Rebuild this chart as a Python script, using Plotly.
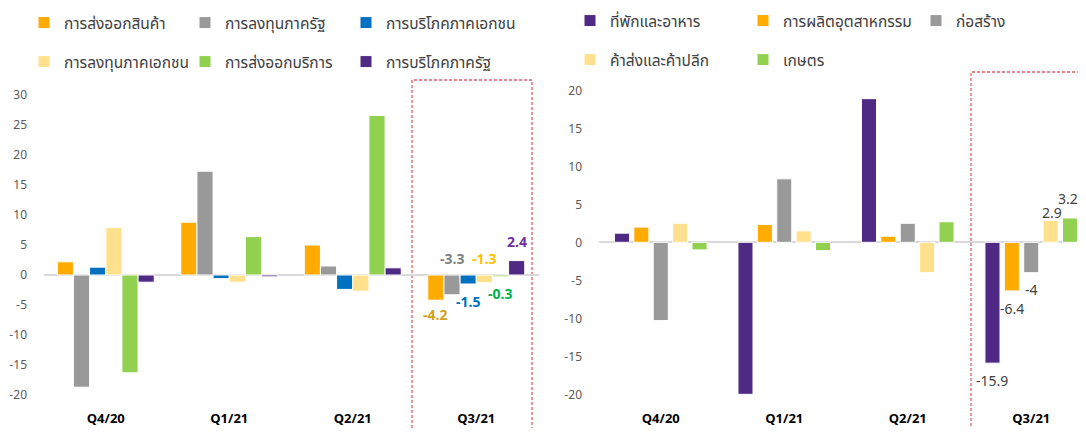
import plotly.graph_objects as go

# page window is 1086x436; the html body keeps its default 8px margin
WIN_W, WIN_H = 1086, 436
OFF = 8
FW, FH = WIN_W - 2 * OFF, WIN_H - 2 * OFF

quarters = ["Q4/20", "Q1/21", "Q2/21", "Q3/21"]

# Left chart: demand-side contributions
left_names = ["การส่งออกสินค้า", "การลงทุนภาครัฐ", "การบริโภคภาคเอกชน",
              "การลงทุนภาคเอกชน", "การส่งออกบริการ", "การบริโภคภาครัฐ"]
left_colors = ["#FFAB00", "#999999", "#0070C0", "#FFE08C", "#92D050", "#4E2A84"]
exports_goods = [2.2, 8.8, 5.0, -4.2]
public_invest = [-18.7, 17.3, 1.5, -3.3]
private_consump = [1.3, -0.6, -2.4, -1.5]
private_invest = [7.9, -1.2, -2.7, -1.3]
exports_services = [-16.3, 6.4, 26.6, -0.3]
public_consump = [-1.2, -0.3, 1.2, 2.4]
left_values = [exports_goods, public_invest, private_consump,
               private_invest, exports_services, public_consump]
left_label_colors = ["#D4A017", "#808080", "#0070C0", "#FFC000", "#00B050", "#7030A0"]
left_label_yshift = [-15, None, -18, None, -18, 18]   # None -> above zero line

# Right chart: supply-side sectors
right_names = ["ที่พักและอาหาร", "การผลิตอุตสาหกรรม", "ก่อสร้าง",
               "ค้าส่งและค้าปลีก", "เกษตร"]
right_colors = ["#4E2A84", "#FFAB00", "#999999", "#FFE08C", "#92D050"]
accommodation = [1.2, -20.0, 18.9, -15.9]
manufacturing = [2.0, 2.35, 0.8, -6.4]
construction = [-10.3, 8.35, 2.5, -4.0]
trade = [2.5, 1.5, -4.0, 2.9]
agriculture = [-1.0, -1.1, 2.7, 3.2]
right_values = [accommodation, manufacturing, construction, trade, agriculture]
right_label_yshift = [-18, -19, -18, 7, 18]
right_label_xadj = [0, 0, 0, 1.5, -2.5]

FONT = "Noto Sans Thai, Leelawadee UI, Tahoma, Noto Sans, sans-serif"


def px(x):
    """window pixel x -> paper fraction"""
    return (x - OFF) / FW


def py(y):
    """window pixel y (from top) -> paper fraction"""
    return (FH - (y - OFF)) / FH


# legend placements (window px): x of legend box, y centre of row
left_leg_pos = [(24, 23), (185, 23), (346, 23), (24, 62), (185, 62), (346, 62)]
right_leg_pos = [(570, 21), (743, 21), (916, 21), (570, 60), (743, 60)]

fig = go.Figure()
leg_layouts = {}
k = 0
for name, vals, col, pos in zip(left_names, left_values, left_colors, left_leg_pos):
    k += 1
    lg = "legend" if k == 1 else f"legend{k}"
    fig.add_trace(go.Bar(x=quarters, y=vals, name=name, marker_color=col,
                         marker_line_color="white", marker_line_width=1,
                         xaxis="x", yaxis="y", legend=lg, showlegend=True))
    leg_layouts[lg] = pos

for name, vals, col, pos in zip(right_names, right_values, right_colors, right_leg_pos):
    k += 1
    lg = f"legend{k}"
    fig.add_trace(go.Bar(x=quarters, y=vals, name=name, marker_color=col,
                         marker_line_color="white", marker_line_width=1,
                         width=0.122, xaxis="x2", yaxis="y2", legend=lg,
                         showlegend=True))
    leg_layouts[lg] = pos

L_X0, L_X1 = 44, 539
R_X0, R_X1 = 599, WIN_W - OFF
Y_TOP, Y_BOT = 83, 405
bargap = 0.215
cat_px = 123.5  # pixel width of one category

last = quarters[-1]
l_slot = cat_px * (1 - bargap) / 6
for i, vals in enumerate(left_values):
    v = vals[-1]
    xs = (i - 2.5) * l_slot
    ys = left_label_yshift[i]
    yv = v
    if ys is None:
        yv, ys = 0, 15.5
    fig.add_annotation(x=last, y=yv, xref="x", yref="y", text=f"<b>{v:g}</b>",
                       showarrow=False, xshift=xs, yshift=ys,
                       font=dict(family=FONT, size=14, color=left_label_colors[i]))

r_slot = cat_px * (1 - bargap) / 5
for i, vals in enumerate(right_values):
    v = vals[-1]
    xs = (i - 2) * r_slot + right_label_xadj[i]
    fig.add_annotation(x=last, y=v, xref="x2", yref="y2", text=f"{v:g}",
                       showarrow=False, xshift=xs, yshift=right_label_yshift[i],
                       font=dict(family=FONT, size=14, color="#404040"))

# dashed highlight boxes
dash_style = dict(color="#E06060", width=1.3, dash="3px,2px")
fig.add_shape(type="rect", xref="paper", yref="paper",
              x0=px(412), x1=px(532), y0=-0.1, y1=py(80),
              line=dash_style, fillcolor="rgba(0,0,0,0)", layer="below")
fig.add_shape(type="rect", xref="paper", yref="paper",
              x0=px(971), x1=1.05, y0=-0.1, y1=py(72),
              line=dash_style, fillcolor="rgba(0,0,0,0)", layer="below")

ytick_font = dict(family=FONT, size=12, color="#595959")
xtick_font = dict(family=FONT, size=13, color="#000000")

left_zero, left_ppu = 275, 6.0
right_zero, right_ppu = 242.3, 7.6

fig.update_layout(
    width=FW, height=FH, autosize=False, showlegend=True,
    margin=dict(l=0, r=0, t=0, b=0, autoexpand=False),
    paper_bgcolor="white", plot_bgcolor="white",
    barmode="group", bargap=bargap, bargroupgap=0,
    font=dict(family=FONT, size=14, color="#404040"),
    xaxis=dict(domain=[px(L_X0), px(L_X1)], anchor="y", showgrid=False,
               range=[-0.5, -0.5 + (L_X1 - L_X0) / cat_px],
               showline=False, ticks="", tickfont=xtick_font,
               tickprefix="<b>", ticksuffix="</b>", ticklabelstandoff=4),
    yaxis=dict(domain=[py(Y_BOT), py(Y_TOP)], anchor="x",
               range=[-(Y_BOT - left_zero) / left_ppu, (left_zero - Y_TOP) / left_ppu],
               tickvals=list(range(-20, 31, 5)), showgrid=False, zeroline=True,
               zerolinecolor="#D9D9D9", zerolinewidth=1.5, showline=False,
               tickfont=ytick_font, ticklabelstandoff=16),
    xaxis2=dict(domain=[px(R_X0), px(R_X1)], anchor="y2", showgrid=False,
                range=[-0.5, -0.5 + (R_X1 - R_X0) / cat_px],
                showline=False, ticks="", tickfont=xtick_font,
                tickprefix="<b>", ticksuffix="</b>", ticklabelstandoff=4),
    yaxis2=dict(domain=[py(Y_BOT), py(Y_TOP)], anchor="x2",
                range=[-(Y_BOT - right_zero) / right_ppu, (right_zero - Y_TOP) / right_ppu],
                tickvals=list(range(-20, 21, 5)), showgrid=False, zeroline=True,
                zerolinecolor="#D9D9D9", zerolinewidth=1.5, showline=False,
                tickfont=ytick_font, ticklabelstandoff=16),
)

leg_common = dict(orientation="h", xanchor="left", yanchor="middle",
                  bgcolor="rgba(0,0,0,0)", traceorder="normal", visible=True,
                  font=dict(family=FONT, size=15.5, color="#404040"),
                  itemclick=False, itemdoubleclick=False)
fig.update_layout({lg: dict(x=px(x), y=py(y), **leg_common)
                   for lg, (x, y) in leg_layouts.items()})

fig.write_html("out.html")
